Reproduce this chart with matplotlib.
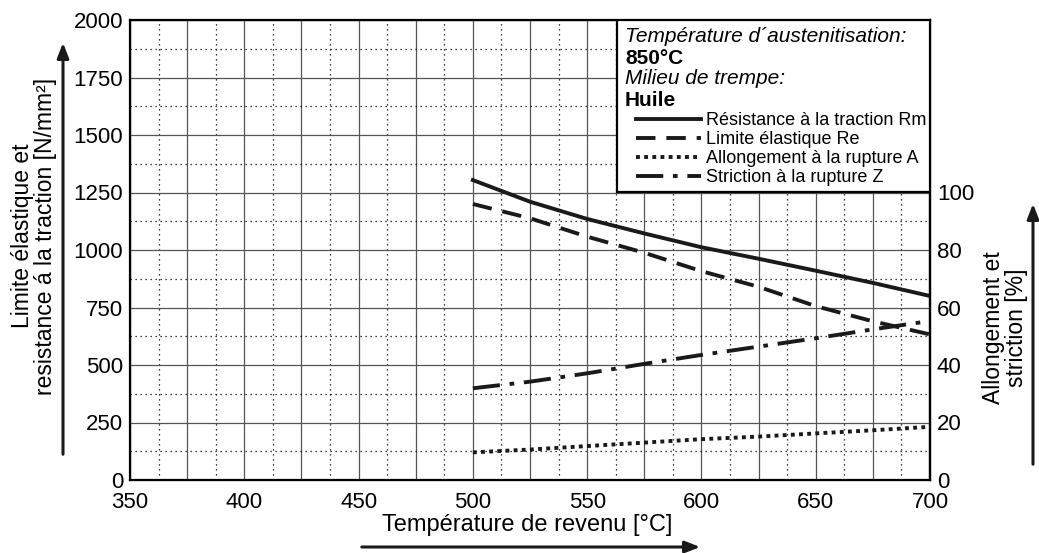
import numpy as np
import matplotlib.pyplot as plt
from matplotlib.patches import Rectangle

plt.rcParams['font.family'] = ['Liberation Sans', 'DejaVu Sans']

# data
temp = [500, 525, 550, 575, 600, 625, 650, 675, 700]
rm = [1304, 1210, 1135, 1072, 1012, 962, 910, 857, 800]      # N/mm2
re = [1200, 1138, 1058, 988, 908, 840, 756, 690, 633]        # N/mm2
z = [31.9, 34.2, 37.1, 40.4, 43.5, 46.4, 49.3, 52.4, 55.3]   # %
a = [9.6, 10.6, 11.8, 13.0, 14.2, 15.1, 16.2, 17.3, 18.5]    # %

xticks = [350, 400, 450, 500, 550, 600, 650, 700]
yticks = [0, 250, 500, 750, 1000, 1250, 1500, 1750, 2000]
y2ticks = [0, 20, 40, 60, 80, 100]

W, H = 1039, 553
fig = plt.figure(figsize=(W / 100, H / 100), dpi=100)
ax = fig.add_axes([130 / W, 73 / H, 800 / W, 460 / H])
ax.set_xlim(350, 700)
ax.set_ylim(0, 2000)

# grid: solid grey major, dotted black minor
for xv in np.arange(350, 701, 25):
    ax.axvline(xv, color='#555555', lw=0.9, zorder=1)
for xv in np.arange(362.5, 700, 25):
    ax.axvline(xv, color='black', lw=0.9, ls=(0, (1, 3)), zorder=1)
for yv in np.arange(0, 2001, 250):
    ax.axhline(yv, color='#555555', lw=0.9, zorder=1)
for yv in np.arange(125, 2000, 250):
    ax.axhline(yv, color='black', lw=0.9, ls=(0, (1, 3)), zorder=1)

lc = '#1a1a1a'
l1, = ax.plot(temp, rm, color=lc, lw=2.8, zorder=3)
l2, = ax.plot(temp, re, color=lc, lw=2.8, ls=(0, (5, 2.8)), zorder=3)

ax.set_xticks(xticks)
ax.set_yticks(yticks)
ax.tick_params(length=0, labelsize=16, pad=5)
ax.tick_params(axis='x', pad=9)
for s in ax.spines.values():
    s.set_linewidth(1.6)

ax2 = ax.twinx()
ax2.set_ylim(0, 160)
ax2.set_yticks(y2ticks)
ax2.tick_params(length=0, labelsize=16, pad=5)
ax2.spines['right'].set_linewidth(1.6)
l3, = ax2.plot(temp, a, color=lc, lw=2.8, ls=(0, (1, 1.1)), zorder=3)
l4, = ax2.plot(temp, z, color=lc, lw=2.8, ls=(0, (7, 2.5, 1.2, 2.5)), zorder=3)

# legend box
box_x0 = (617 - 130) / 800
box_y0 = (480 - 192) / 460
ax2.add_patch(Rectangle((box_x0, box_y0), 1 - box_x0, 1 - box_y0, transform=ax2.transAxes,
                        facecolor='white', edgecolor='black', lw=1.6, zorder=5))
tx = (625 - 130) / 800
hdr = [('Température d´austenitisation:', 'italic', 'normal', 37),
       ('850°C', 'normal', 'bold', 58),
       ('Milieu de trempe:', 'italic', 'normal', 79),
       ('Huile', 'normal', 'bold', 101)]
for txt, st, wt, yp in hdr:
    ax2.text(tx, (480 - yp) / 460, txt, style=st, weight=wt, fontsize=15,
             transform=ax2.transAxes, va='center', zorder=6)
leg = ax2.legend([l1, l2, l3, l4],
                 ['Résistance à la traction Rm', 'Limite élastique Re',
                  'Allongement à la rupture A', 'Striction à la rupture Z'],
                 loc='upper left', bbox_to_anchor=((636 - 130) / 800, (480 - 112) / 460),
                 frameon=False, fontsize=13, handlelength=3.6, handletextpad=0.3,
                 labelspacing=0.12, borderaxespad=0, borderpad=0)
leg.set_zorder(7)

# axis labels with arrows
fig.text(34 / W, 1 - 236 / H, 'Limite élastique et\nresistance á la traction [N/mm²]',
         rotation=90, ha='center', va='center', fontsize=16.5, linespacing=1.0)
fig.text(1005 / W, 1 - 328 / H, 'Allongement et\nstriction [%]',
         rotation=90, ha='center', va='center', fontsize=16.5, linespacing=1.0)
fig.text(527 / W, 1 - 525 / H, 'Température de revenu [°C]',
         ha='center', va='center', fontsize=17)

arrow = dict(arrowstyle='-|>,head_length=0.9,head_width=0.35', color=lc, lw=2.2)
ax.annotate('', xy=(63 / W, 1 - 40 / H), xytext=(63 / W, 1 - 457 / H),
            xycoords='figure fraction', textcoords='figure fraction', arrowprops=arrow)
ax.annotate('', xy=(1033 / W, 1 - 201 / H), xytext=(1033 / W, 1 - 467 / H),
            xycoords='figure fraction', textcoords='figure fraction', arrowprops=arrow)
ax.annotate('', xy=(703 / W, 1 - 547 / H), xytext=(359 / W, 1 - 547 / H),
            xycoords='figure fraction', textcoords='figure fraction', arrowprops=arrow)

fig.savefig('out.png', dpi=100)
